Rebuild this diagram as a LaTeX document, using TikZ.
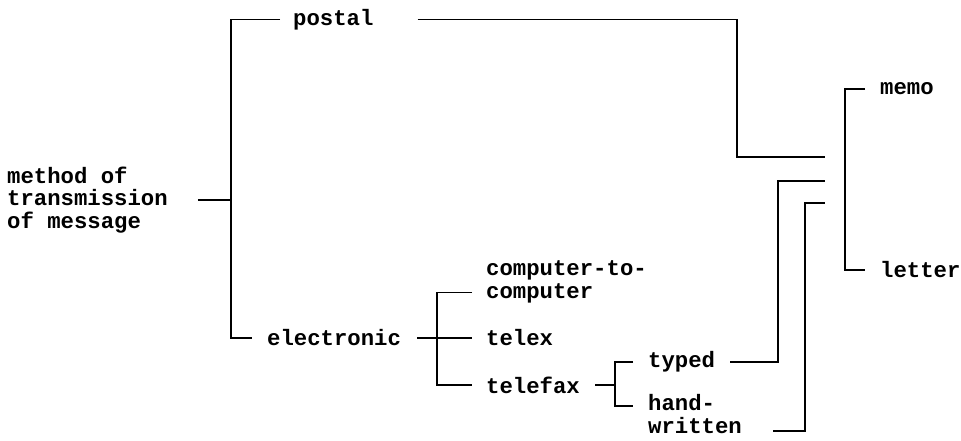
\documentclass[tikz,border=0pt]{standalone}
\usepackage{fontspec}
\setmonofont{Liberation Mono}
\begin{document}
\begin{tikzpicture}[x=1pt,y=-1pt,
  lbl/.style={anchor=west, inner sep=0pt, align=left,
    font=\ttfamily\bfseries\fontsize{22.3}{22.5}\selectfont},
  conn/.style={draw=black, line width=1.9pt}]
\useasboundingbox (0,0) rectangle (961,440);
% labels
\node[lbl] (method) at (7,200) {method of\\transmission\\of message};
\node[lbl] (postal) at (293,19.5) {postal};
\node[lbl] (elec) at (267,338) {electronic};
\node[lbl] (cc) at (486,282) {computer-to-\\computer};
\node[lbl] (telex) at (486,338) {telex};
\node[lbl] (telefax) at (486,385) {telefax};
\node[lbl] (typed) at (648,362) {typed};
\node[lbl] (hw) at (648,414) {hand-\\written};
\node[lbl] (memo) at (880,89) {memo};
\node[lbl] (letter) at (880,270) {letter};
% junctions
\coordinate (j0) at (231,200);
\coordinate (jP) at (737,157);
\coordinate (r1) at (825,157);
\coordinate (r2) at (825,181);
\coordinate (r3) at (825,203);
\coordinate (jE) at (437,338);
\coordinate (jT) at (615,385);
\coordinate (jy) at (778,181);
\coordinate (jw) at (805,203);
\coordinate (jR) at (845,180);
% connectors
\draw[conn] ([xshift=30pt]method.east) -- (j0);
\draw[conn] ([xshift=-13pt]postal.west) -| (j0) |- ([xshift=-15pt]elec.west);
\draw[conn] ([xshift=44pt]postal.east) -| (jP) -- (r1);
\draw[conn] ([xshift=16pt]elec.east) -- ([xshift=-14pt]telex.west);
\draw[conn] ([xshift=-14pt,yshift=-10.5pt]cc.west) -| (jE) |- ([xshift=-14pt]telefax.west);
\draw[conn] ([xshift=15pt]telefax.east) -- (jT);
\draw[conn] ([xshift=-15pt]typed.west) -| (jT) |- ([xshift=-15pt,yshift=8pt]hw.west);
\draw[conn] ([xshift=15pt]typed.east) -| (jy) -- (r2);
\draw[conn] ([xshift=31pt,yshift=-17pt]hw.east) -| (jw) -- (r3);
\draw[conn] ([xshift=-15pt]memo.west) -| (jR) |- ([xshift=-15pt]letter.west);
\end{tikzpicture}
\end{document}
